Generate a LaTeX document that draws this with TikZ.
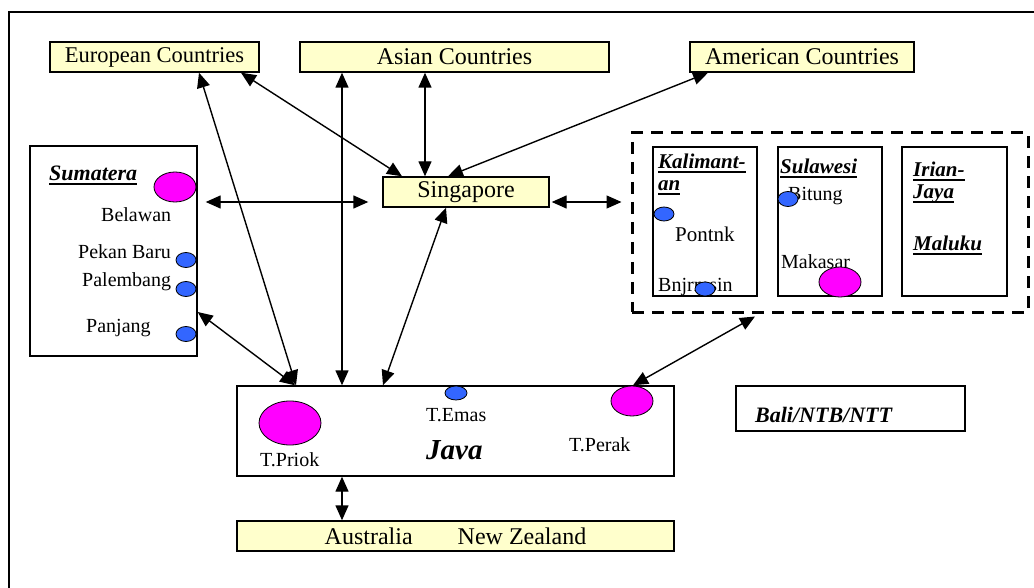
\documentclass[tikz,border=0pt]{standalone}
\usepackage{fontspec}
\setmainfont{Liberation Serif}
\usetikzlibrary{arrows.meta,shapes.geometric,calc}
\definecolor{boxyellow}{HTML}{FFFFCC}
\definecolor{portmag}{HTML}{FF00FF}
\definecolor{portblue}{HTML}{3366FF}
\newcommand\thul[1]{\setbox0\hbox{#1}\rlap{\rule[-4.5pt]{\wd0}{2pt}}\box0}
\begin{document}
\begin{tikzpicture}[x=1pt,y=-1pt,
  ybox/.style={draw,line width=1.4pt,fill=boxyellow,inner sep=0pt,font=\fontsize{24}{26}\selectfont},
  wbox/.style={draw,line width=1.4pt,fill=white,inner sep=0pt},
  lbl/.style={anchor=base west,inner sep=0pt,font=\fontsize{20}{22}\selectfont},
  blbl/.style={anchor=base west,inner sep=0pt,font=\fontsize{21}{23}\selectfont\bfseries\itshape},
  bigport/.style={ellipse,draw,line width=0.8pt,fill=portmag,inner sep=0pt},
  smallport/.style={ellipse,draw,line width=0.8pt,fill=portblue,inner sep=0pt,minimum width=20pt,minimum height=15pt},
  link/.style={line width=1.4pt,{Triangle[length=15pt,width=13pt]}-{Triangle[length=15pt,width=13pt]}}]
\useasboundingbox (0,0) rectangle (1034,588);
\fill[white] (0,0) rectangle (1034,588);
% outer frame
\draw[line width=1.5pt] (9,600) -- (9,12) -- (1040,12);

% top boxes
\node[ybox,minimum width=209pt,minimum height=30pt,font=\fontsize{22.5}{24}\selectfont] (eu) at (154.5,57) {European Countries};
\node[ybox,minimum width=309pt,minimum height=30pt] (asia) at (454.5,57) {Asian Countries};
\node[ybox,minimum width=224pt,minimum height=30pt] (am) at (802,57) {American Countries};
\node[ybox,minimum width=166pt,minimum height=30pt] (sg) at (466,192) {Singapore};

% Sumatera
\node[wbox,minimum width=167pt,minimum height=210pt] (sum) at (113.5,251) {};
\node[blbl,font=\fontsize{22}{24}\selectfont\bfseries\itshape] (sumt) at (49,181) {\thul{Sumatera}};
\node[lbl] (belt) at (101,222) {Belawan};
\node[lbl] (pbt) at (78,259) {Pekan Baru};
\node[lbl] (plt) at (82,287) {Palembang};
\node[lbl] (pjt) at (86,332) {Panjang};

% eastern islands
\node[draw,line width=3pt,dash pattern=on 12pt off 8pt,minimum width=396pt,minimum height=179pt,inner sep=0pt] (dash) at (830,222.5) {};
\node[wbox,minimum width=104pt,minimum height=149pt] (kal) at (705,221.5) {};
\node[wbox,minimum width=104pt,minimum height=149pt] (sul) at (830,221.5) {};
\node[wbox,minimum width=105pt,minimum height=149pt] (iri) at (954.5,221.5) {};
\node[blbl] (kalt1) at (658,169) {\thul{Kalimant-}};
\node[blbl] (kalt2) at (658,191) {\thul{an}};
\node[lbl,font=\fontsize{21}{23}\selectfont] (pont) at (675,242) {Pontnk};
\node[lbl] (bnj) at (658,291) {Bnjrmsin};
\node[blbl] (sult) at (780,174) {\thul{Sulawesi}};
\node[lbl] (bitt) at (788,201) {Bitung};
\node[lbl] (makt) at (781,269) {Makasar};
\node[blbl] (irit1) at (913,177) {\thul{Irian-}};
\node[blbl] (irit2) at (913,199) {\thul{Jaya}};
\node[blbl] (malt) at (913,251) {\thul{Maluku}};

% Java
\node[wbox,minimum width=437pt,minimum height=90pt] (java) at (455.5,431) {};
\node[lbl] (emast) at (426,421) {T.Emas};
\node[anchor=base west,inner sep=0pt,font=\fontsize{29}{31}\selectfont\bfseries\itshape] (javat) at (426,459) {Java};
\node[lbl] (perakt) at (569,451) {T.Perak};
\node[lbl] (priokt) at (260,466) {T.Priok};

\node[ybox,minimum width=437pt,minimum height=30pt] (aus) at (455.5,536) {Australia\hspace{45pt}New Zealand};

\node[wbox,minimum width=229pt,minimum height=45pt] (bali) at (850.5,408.5) {};
\node[blbl,font=\fontsize{22}{24}\selectfont\bfseries\itshape] (balit) at (755,422) {Bali/NTB/NTT};

% ports
\node[bigport,minimum width=42pt,minimum height=30pt] (belp) at (175,187) {};
\node[smallport] (pbp) at (186,260) {};
\node[smallport] (plp) at (186,289) {};
\node[smallport] (pjp) at (186,334) {};
\node[smallport,minimum height=14pt] (kalp1) at (664,214) {};
\node[smallport,minimum height=14pt] (kalp2) at (705,289) {};
\node[smallport] (bitp) at (788,199) {};
\node[bigport,minimum width=42pt,minimum height=30pt] (makp) at (840,282) {};
\node[bigport,minimum width=62pt,minimum height=44pt] (priokp) at (290,423) {};
\node[smallport,minimum width=22pt,minimum height=14pt] (emasp) at (456,393) {};
\node[bigport,minimum width=42pt,minimum height=30pt] (perakp) at (632,401) {};

% connectors
\draw[link] ($(eu.south)+(44.5,0)$) -- ($(java.north)+(-159.5,0)$);
\draw[link] ($(eu.south)+(86.5,0)$) -- ($(sg.north)+(-64,0)$);
\draw[link] ($(asia.south)+(-112.5,0)$) -- ($(java.north)+(-113.5,0)$);
\draw[link] ($(asia.south)+(-29.5,0)$) -- ($(sg.north)+(-41,0)$);
\draw[link] ($(am.south)+(-94,0)$) -- ($(sg.north)+(-18,0)$);
\draw[link] ($(sg.south)+(-20,0)$) -- ($(java.north)+(-72.5,0)$);
\draw[link] ($(sum.east)+(0,61)$) -- ($(java.north)+(-160.5,0)$);
\draw[link] ($(sum.east)+(8,-49)$) -- ($(sg.west)+(-14,10)$);
\draw[link] ($(sg.east)+(2,10)$) -- ($(dash.west)+(-9,-20.5)$);
\draw[link] ($(dash.south)+(-75,3)$) -- ($(java.north)+(177.5,0)$);
\draw[link] ($(java.south)+(-113.5,0)$) -- ($(aus.north)+(-113.5,0)$);
\end{tikzpicture}
\end{document}
